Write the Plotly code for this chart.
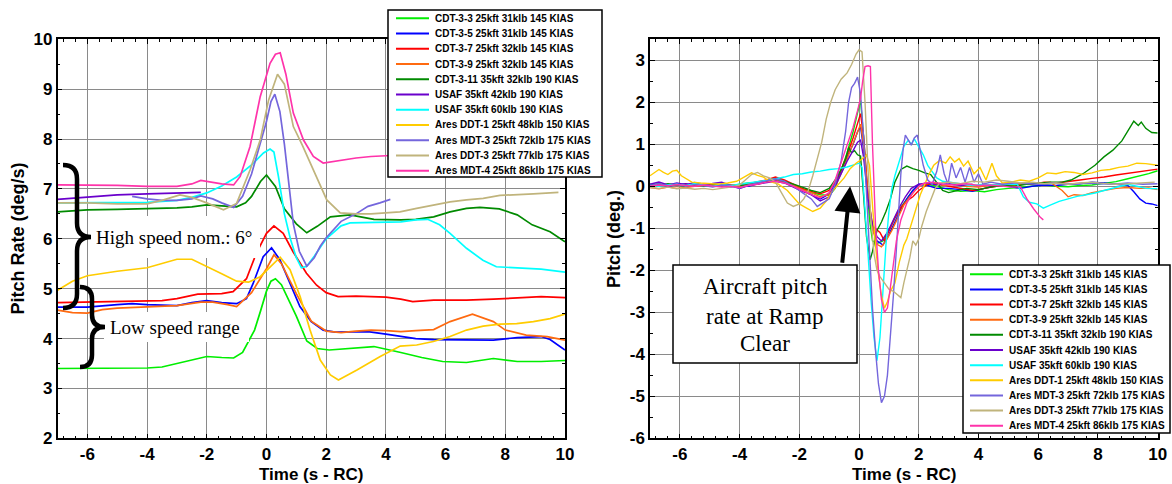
import plotly.graph_objects as go

W, H = 1172, 484

# ---------------- series names / colours ----------------
series_names = [
    "CDT-3-3 25kft 31klb 145 KIAS",
    "CDT-3-5 25kft 31klb 145 KIAS",
    "CDT-3-7 25kft 32klb 145 KIAS",
    "CDT-3-9 25kft 32klb 145 KIAS",
    "CDT-3-11 35kft 32klb 190 KIAS",
    "USAF 35kft 42klb 190 KIAS",
    "USAF 35kft 60klb 190 KIAS",
    "Ares DDT-1 25kft 48klb 150 KIAS",
    "Ares MDT-3 25kft 72klb 175 KIAS",
    "Ares DDT-3 25kft 77klb 175 KIAS",
    "Ares MDT-4 25kft 86klb 175 KIAS",
]
series_colors = ["#00ee00", "#0000ff", "#ff0000", "#ff6a10", "#008a00", "#6a00cc",
                 "#00ffff", "#ffcc00", "#7466dc", "#c0b47c", "#ff33aa"]

# ---------------- left chart: pitch rate (deg/s) ----------------
rate_cdt33_x = [-7, -6, -5, -4, -3.5, -3, -2.5, -2, -1.5, -1.1, -0.8, -0.6, -0.4, -0.2, 0, 0.15, 0.3, 0.5, 0.8, 1.0, 1.35, 1.7, 2.1, 2.6, 3.0, 3.6, 4.5, 5.2, 5.9, 6.7, 7.6, 8.4, 9.2, 10]
rate_cdt33_y = [3.40, 3.40, 3.41, 3.41, 3.43, 3.50, 3.58, 3.64, 3.62, 3.61, 3.72, 3.93, 4.17, 4.55, 4.95, 5.15, 5.20, 5.08, 4.70, 4.45, 3.95, 3.80, 3.77, 3.79, 3.82, 3.84, 3.72, 3.62, 3.54, 3.52, 3.60, 3.54, 3.54, 3.56]

rate_cdt35_x = [-7, -6, -5, -4.5, -4, -3, -2.5, -2, -1.5, -1, -0.67, -0.45, -0.11, 0.17, 0.45, 0.78, 1.12, 1.5, 1.9, 2.3, 3.0, 3.4, 4.0, 4.5, 5.0, 5.6, 6.7, 7.6, 8.4, 9.2, 9.5, 10]
rate_cdt35_y = [4.63, 4.63, 4.68, 4.70, 4.68, 4.66, 4.72, 4.76, 4.72, 4.70, 4.80, 5.10, 5.64, 5.82, 5.58, 5.10, 4.64, 4.34, 4.17, 4.13, 4.13, 4.14, 4.09, 4.04, 4.00, 3.98, 3.98, 3.97, 4.02, 4.04, 3.98, 3.77]

rate_cdt37_x = [-7, -6, -5, -4, -3.5, -3, -2.3, -1.5, -1.12, -0.67, -0.34, 0, 0.25, 0.56, 0.89, 1.34, 1.68, 2.0, 2.4, 3.0, 3.4, 4.0, 4.5, 4.9, 5.6, 6.7, 7.6, 8.4, 9.2, 10]
rate_cdt37_y = [4.72, 4.73, 4.73, 4.74, 4.76, 4.80, 4.89, 4.90, 4.94, 5.20, 5.71, 6.11, 6.26, 6.11, 5.74, 5.31, 5.07, 4.92, 4.84, 4.85, 4.84, 4.83, 4.79, 4.74, 4.77, 4.77, 4.79, 4.81, 4.84, 4.82]

rate_cdt39_x = [-7, -6.5, -6, -5.5, -5, -4, -3, -2.2, -1.8, -1.3, -1.0, -0.5, 0, 0.25, 0.5, 1.0, 1.5, 2.0, 2.5, 3.0, 3.5, 4.0, 4.5, 5.0, 5.6, 6.15, 6.7, 6.9, 7.6, 8.0, 8.7, 9.4, 10]
rate_cdt39_y = [4.57, 4.52, 4.51, 4.58, 4.61, 4.63, 4.66, 4.73, 4.73, 4.68, 4.64, 4.92, 5.40, 5.68, 5.50, 4.90, 4.35, 4.15, 4.12, 4.15, 4.17, 4.16, 4.14, 4.16, 4.18, 4.34, 4.44, 4.49, 4.34, 4.17, 4.07, 4.04, 3.97]

rate_cdt311_x = [-7, -6, -5, -4, -3, -2.5, -2, -1.5, -1, -0.7, -0.5, -0.2, 0, 0.3, 0.6, 1.0, 1.35, 1.7, 2.14, 2.8, 3.6, 4.5, 5.0, 5.6, 6.15, 6.7, 7.15, 7.8, 8.4, 8.9, 9.5, 10]
rate_cdt311_y = [6.54, 6.58, 6.59, 6.60, 6.62, 6.64, 6.68, 6.66, 6.64, 6.72, 6.85, 7.15, 7.28, 7.05, 6.60, 6.30, 6.12, 6.25, 6.44, 6.48, 6.39, 6.38, 6.39, 6.44, 6.54, 6.61, 6.63, 6.60, 6.48, 6.28, 6.14, 5.94]

rate_usaf42_x = [-7, -6, -5, -4, -3, -2.2]
rate_usaf42_y = [6.79, 6.84, 6.88, 6.90, 6.92, 6.93]

rate_usaf60_x = [-7, -6, -5, -4, -3, -2.5, -2, -1.5, -1, -0.5, -0.1, 0.12, 0.25, 0.4, 0.6, 0.8, 1.0, 1.17, 1.35, 1.6, 2.0, 2.5, 2.8, 3.5, 4.5, 5.0, 5.4, 5.8, 6.15, 6.7, 7.25, 7.7, 8.4, 9.2, 10]
rate_usaf60_y = [6.72, 6.72, 6.73, 6.73, 6.77, 6.83, 6.92, 7.06, 7.24, 7.48, 7.72, 7.80, 7.74, 7.25, 6.50, 6.00, 5.62, 5.42, 5.45, 5.65, 6.00, 6.26, 6.32, 6.33, 6.34, 6.38, 6.39, 6.28, 6.11, 5.81, 5.57, 5.44, 5.41, 5.39, 5.33]

rate_ddt1_x = [-7, -6.5, -6, -5, -4, -3.5, -3, -2.5, -2, -1.5, -1, -0.6, -0.21, 0.1, 0.3, 0.46, 0.79, 1.13, 1.46, 1.8, 2.14, 2.41, 3.03, 3.81, 4.48, 5.03, 5.59, 6.15, 6.7, 7.26, 7.82, 8.38, 8.94, 9.5, 10]
rate_ddt1_y = [4.97, 5.15, 5.26, 5.35, 5.42, 5.50, 5.59, 5.59, 5.45, 5.30, 5.15, 5.13, 5.24, 5.42, 5.55, 5.63, 5.38, 4.84, 4.17, 3.57, 3.27, 3.17, 3.37, 3.64, 3.85, 3.87, 3.94, 4.04, 4.17, 4.25, 4.29, 4.30, 4.34, 4.40, 4.49]

rate_mdt3_x = [-4.5, -4, -3.5, -3, -2.5, -2.2, -1.8, -1.5, -1.1, -0.8, -0.5, -0.2, 0, 0.15, 0.28, 0.45, 0.6, 0.75, 0.9, 1.1, 1.35, 1.6, 1.8, 2.0, 2.5, 3.0, 3.4, 3.8, 4.15]
rate_mdt3_y = [6.85, 6.80, 6.77, 6.77, 6.80, 6.86, 6.80, 6.72, 6.63, 6.85, 7.30, 7.90, 8.35, 8.75, 8.90, 8.55, 7.90, 7.10, 6.30, 5.75, 5.45, 5.62, 5.85, 6.02, 6.35, 6.50, 6.65, 6.72, 6.79]

rate_ddt3_x = [-7, -6, -5, -4, -3.5, -2.9, -2.5, -2, -1.44, -1.0, -0.55, -0.21, 0.07, 0.37, 0.6, 0.9, 1.2, 1.46, 2.02, 2.47, 3.0, 3.5, 4.0, 4.47, 5.03, 5.59, 6.15, 6.7, 7.26, 7.82, 8.38, 8.94, 9.78]
rate_ddt3_y = [6.72, 6.72, 6.70, 6.70, 6.77, 6.88, 6.83, 6.72, 6.58, 6.71, 7.38, 7.98, 8.78, 9.30, 9.10, 8.25, 7.88, 7.52, 6.78, 6.52, 6.50, 6.50, 6.52, 6.54, 6.61, 6.68, 6.74, 6.78, 6.81, 6.87, 6.88, 6.90, 6.93]

rate_mdt4_x = [-7, -6, -5, -4, -3, -2.5, -2.2, -1.5, -1.1, -0.88, -0.55, -0.21, 0.12, 0.3, 0.46, 0.65, 0.9, 1.24, 1.57, 1.9, 2.5, 3.0, 3.5, 4.04, 4.5]
rate_mdt4_y = [7.08, 7.08, 7.07, 7.05, 7.05, 7.10, 7.17, 7.10, 7.08, 7.25, 7.85, 8.85, 9.52, 9.70, 9.73, 9.30, 8.52, 7.98, 7.65, 7.52, 7.58, 7.62, 7.65, 7.66, 7.68]

# ---------------- right chart: pitch (deg) as (time, value) pairs ----------------
pitch_cdt33 = [(-7,0.03),(-6.7,0.06),(-6.4,0.02),(-6.1,0.05),(-5.8,0.01),(-5.5,0.05),(-5.2,0.02),(-4.9,0.06),(-4.6,0.03),(-4.3,0.01),(-4.0,0.05),(-3.7,0.08),(-3.4,0.05),(-3.1,0.12),(-2.8,0.18),(-2.5,0.12),(-2.2,0.02),(-1.9,-0.06),(-1.6,-0.15),(-1.3,-0.2),(-1.0,-0.22),(-0.8,-0.05),(-0.6,0.35),(-0.4,0.8),(-0.2,1.3),(-0.05,1.75),(0.05,2.05),(0.15,1.2),(0.25,0.1),(0.35,-0.8),(0.45,-1.3),(0.6,-1.36),(0.8,-1.3),(1.0,-1.05),(1.2,-0.75),(1.4,-0.5),(1.6,-0.3),(1.8,-0.1),(2.0,0.03),(2.3,0.05),(2.6,0.0),(3.0,-0.08),(3.4,-0.12),(3.8,-0.1),(4.2,-0.13),(4.6,-0.08),(5.0,-0.05),(5.4,-0.02),(5.8,0.0),(6.2,0.03),(6.6,0.0),(7.0,-0.01),(7.4,0.02),(7.8,0.03),(8.2,0.07),(8.6,0.11),(9.0,0.18),(9.4,0.24),(9.7,0.3),(10,0.37)]
pitch_cdt35 = [(-7,0.02),(-6.7,0.05),(-6.4,0.0),(-6.1,0.04),(-5.8,0.06),(-5.5,0.02),(-5.2,0.05),(-4.9,0.01),(-4.6,0.04),(-4.3,-0.02),(-4.0,0.03),(-3.7,0.0),(-3.4,0.06),(-3.1,0.1),(-2.8,0.15),(-2.5,0.1),(-2.2,0.0),(-1.9,-0.1),(-1.6,-0.2),(-1.3,-0.3),(-1.0,-0.18),(-0.8,0.05),(-0.6,0.35),(-0.4,0.7),(-0.2,1.0),(-0.05,1.3),(0.05,1.42),(0.15,0.9),(0.3,-0.3),(0.45,-1.0),(0.6,-1.3),(0.8,-1.4),(1.0,-1.15),(1.2,-0.85),(1.4,-0.55),(1.6,-0.3),(1.8,-0.1),(2.0,0.05),(2.3,0.02),(2.6,-0.05),(3.0,-0.05),(3.4,-0.08),(3.8,-0.12),(4.2,-0.05),(4.6,0.02),(5.0,0.0),(5.4,-0.05),(5.8,0.0),(6.2,0.03),(6.6,0.02),(7.0,0.05),(7.4,0.06),(7.8,0.1),(8.2,0.08),(8.6,0.05),(9.0,0.02),(9.2,-0.13),(9.4,-0.3),(9.6,-0.4),(9.8,-0.42),(10,-0.46)]
pitch_cdt37 = [(-7,0.03),(-6.7,0.0),(-6.4,0.04),(-6.1,0.02),(-5.8,0.05),(-5.5,0.0),(-5.2,0.03),(-4.9,0.05),(-4.6,0.01),(-4.3,0.04),(-4.0,0.02),(-3.7,0.06),(-3.4,0.1),(-3.1,0.15),(-2.8,0.22),(-2.5,0.15),(-2.2,0.05),(-1.9,-0.05),(-1.6,-0.12),(-1.3,-0.18),(-1.0,-0.1),(-0.8,0.1),(-0.6,0.4),(-0.4,0.75),(-0.2,1.15),(-0.05,1.5),(0.05,1.73),(0.15,1.2),(0.3,-0.2),(0.45,-0.95),(0.6,-1.05),(0.7,-1.1),(0.85,-1.3),(1.0,-1.05),(1.2,-0.75),(1.4,-0.5),(1.6,-0.35),(1.8,-0.25),(2.0,-0.1),(2.3,0.05),(2.6,0.08),(3.0,0.0),(3.4,-0.05),(3.8,-0.1),(4.2,-0.05),(4.6,0.0),(5.0,0.03),(5.4,0.05),(5.8,0.05),(6.2,0.1),(6.6,0.08),(7.0,0.11),(7.4,0.15),(7.8,0.19),(8.2,0.22),(8.6,0.27),(9.0,0.31),(9.4,0.34),(9.7,0.37),(10,0.41)]
pitch_cdt39 = [(-7,-0.03),(-6.7,-0.06),(-6.4,-0.02),(-6.1,-0.05),(-5.8,-0.03),(-5.5,0.0),(-5.2,0.03),(-4.9,0.0),(-4.6,0.02),(-4.3,0.04),(-4.0,0.0),(-3.7,0.05),(-3.4,0.08),(-3.1,0.12),(-2.8,0.16),(-2.5,0.1),(-2.2,0.02),(-1.9,-0.08),(-1.6,-0.15),(-1.3,-0.25),(-1.0,-0.2),(-0.8,0.0),(-0.6,0.3),(-0.4,0.65),(-0.2,1.0),(-0.05,1.3),(0.05,1.48),(0.15,1.0),(0.3,-0.2),(0.45,-1.0),(0.6,-1.38),(0.75,-1.44),(0.9,-1.3),(1.1,-1.05),(1.3,-0.75),(1.5,-0.45),(1.7,-0.25),(1.9,-0.08),(2.1,0.05),(2.4,0.08),(2.8,0.02),(3.2,0.05),(3.6,0.0),(4.0,-0.02),(4.4,0.03),(4.8,0.05),(5.2,0.02),(5.6,0.06),(6.0,0.08),(6.4,0.1),(6.8,-0.1),(7.0,-0.25),(7.2,-0.2),(7.5,-0.22),(7.8,-0.15),(8.2,-0.1),(8.6,-0.05),(9.0,-0.03),(9.4,-0.05),(9.7,-0.04),(10,-0.08)]
pitch_cdt311 = [(-7,0.05),(-6.7,0.02),(-6.4,0.06),(-6.1,0.03),(-5.8,0.0),(-5.5,0.04),(-5.2,0.01),(-4.9,0.03),(-4.6,0.05),(-4.3,0.0),(-4.0,0.02),(-3.7,0.04),(-3.4,0.08),(-3.1,0.12),(-2.8,0.18),(-2.5,0.12),(-2.2,0.05),(-1.9,-0.02),(-1.6,-0.1),(-1.3,-0.15),(-1.0,-0.05),(-0.8,0.15),(-0.6,0.4),(-0.45,0.65),(-0.35,0.92),(-0.25,0.8),(-0.15,0.85),(-0.05,0.75),(0.05,0.72),(0.15,-0.2),(0.25,-1.2),(0.37,-1.75),(0.45,-1.55),(0.6,-1.05),(0.75,-0.85),(0.9,-0.6),(1.05,-0.3),(1.2,0.1),(1.4,0.4),(1.6,0.48),(1.8,0.42),(2.0,0.38),(2.2,0.32),(2.4,0.28),(2.6,0.1),(2.8,-0.1),(3.0,-0.15),(3.3,-0.1),(3.6,-0.05),(4.0,-0.08),(4.4,-0.02),(4.8,0.02),(5.2,0.0),(5.6,0.05),(6.0,0.08),(6.4,0.1),(6.8,0.1),(7.1,0.15),(7.5,0.3),(7.9,0.5),(8.2,0.7),(8.5,0.86),(8.8,1.08),(9.0,1.3),(9.2,1.55),(9.35,1.45),(9.45,1.53),(9.6,1.38),(9.8,1.28),(10,1.27)]
pitch_usaf42 = [(-7,0.05),(-6.7,0.1),(-6.4,0.03),(-6.1,0.08),(-5.8,0.04),(-5.5,0.09),(-5.2,0.02),(-4.9,0.07),(-4.6,0.1),(-4.3,0.03),(-4.0,-0.05),(-3.7,0.02),(-3.4,0.05),(-3.1,0.08),(-2.8,0.12),(-2.5,0.08),(-2.2,-0.02),(-1.9,-0.12),(-1.6,-0.2),(-1.3,-0.35),(-1.0,-0.25),(-0.8,0.0),(-0.6,0.3),(-0.4,0.6),(-0.2,0.85),(-0.05,1.05),(0.05,1.1),(0.15,0.7),(0.3,-0.3),(0.45,-0.9),(0.6,-1.2),(0.75,-1.3),(0.95,-1.1),(1.15,-0.8),(1.35,-0.5),(1.55,-0.25),(1.75,-0.05),(2.0,0.05),(2.3,0.08),(2.6,0.03),(3.0,0.06),(3.4,0.02),(3.8,0.05)]
pitch_usaf60 = [(-7,0.02),(-6.7,0.0),(-6.4,0.03),(-6.1,0.05),(-5.8,0.02),(-5.5,0.06),(-5.2,0.03),(-4.9,0.0),(-4.6,0.04),(-4.3,0.02),(-4.0,0.05),(-3.7,0.08),(-3.4,0.1),(-3.1,0.14),(-2.8,0.18),(-2.5,0.22),(-2.2,0.28),(-1.9,0.3),(-1.6,0.34),(-1.3,0.36),(-1.0,0.4),(-0.7,0.42),(-0.4,0.46),(-0.2,0.5),(0.0,0.55),(0.1,0.45),(0.2,-0.5),(0.3,-1.6),(0.4,-2.7),(0.5,-3.6),(0.6,-4.15),(0.7,-3.6),(0.8,-2.5),(0.9,-1.4),(1.0,-0.6),(1.1,-0.05),(1.2,0.25),(1.35,0.6),(1.5,0.95),(1.65,1.1),(1.75,1.0),(1.85,1.13),(2.0,0.95),(2.15,0.75),(2.3,0.5),(2.45,0.35),(2.6,0.2),(2.8,0.12),(3.0,0.1),(3.4,0.05),(3.8,0.02),(4.2,0.05),(4.6,0.03),(5.0,0.05),(5.3,0.05),(5.5,-0.25),(5.7,-0.38),(5.95,-0.42),(6.17,-0.52),(6.4,-0.45),(6.7,-0.36),(7.0,-0.3),(7.3,-0.24),(7.6,-0.2),(7.9,-0.16),(8.2,-0.1),(8.5,-0.05),(8.8,0.0),(9.0,0.05),(9.3,0.0),(9.6,-0.05),(10,-0.06)]
pitch_ddt1 = [(-7,0.25),(-6.85,0.32),(-6.7,0.4),(-6.55,0.33),(-6.4,0.28),(-6.25,0.36),(-6.1,0.38),(-5.95,0.25),(-5.8,0.18),(-5.6,0.1),(-5.3,0.08),(-5.0,0.06),(-4.7,0.05),(-4.4,0.08),(-4.1,0.12),(-3.85,0.22),(-3.6,0.32),(-3.4,0.26),(-3.2,0.22),(-3.0,0.12),(-2.7,0.05),(-2.4,-0.1),(-2.2,-0.25),(-2.0,-0.42),(-1.8,-0.5),(-1.55,-0.6),(-1.3,-0.52),(-1.1,-0.35),(-0.9,-0.12),(-0.7,0.05),(-0.5,0.2),(-0.3,0.42),(-0.1,0.55),(0.1,0.65),(0.25,0.75),(0.35,0.5),(0.45,-0.5),(0.55,-1.4),(0.65,-2.1),(0.75,-2.6),(0.85,-2.9),(0.95,-2.75),(1.05,-2.5),(1.2,-2.3),(1.35,-1.8),(1.5,-1.4),(1.6,-1.25),(1.75,-0.9),(1.9,-0.5),(2.05,-0.2),(2.2,0.05),(2.35,0.3),(2.5,0.5),(2.7,0.62),(2.9,0.55),(3.05,0.7),(3.2,0.58),(3.35,0.66),(3.5,0.48),(3.65,0.6),(3.85,0.3),(4.05,0.45),(4.25,0.15),(4.45,0.55),(4.6,0.25),(4.8,0.08),(5.1,0.1),(5.4,0.15),(5.7,0.12),(6.0,0.2),(6.3,0.32),(6.6,0.3),(6.9,0.35),(7.2,0.33),(7.5,0.28),(7.8,0.32),(8.1,0.38),(8.4,0.4),(8.7,0.45),(9.0,0.48),(9.3,0.55),(9.6,0.54),(10,0.5)]
pitch_mdt3 = [(-7,0.02),(-6.7,0.06),(-6.4,0.01),(-6.1,0.05),(-5.8,0.0),(-5.5,0.04),(-5.2,0.02),(-4.9,-0.02),(-4.6,0.03),(-4.3,0.0),(-4.0,-0.04),(-3.7,0.03),(-3.4,0.08),(-3.1,0.14),(-2.8,0.18),(-2.5,0.12),(-2.2,0.0),(-1.9,-0.15),(-1.6,-0.3),(-1.4,-0.48),(-1.2,-0.4),(-1.0,-0.3),(-0.8,0.05),(-0.6,0.6),(-0.45,1.3),(-0.35,2.0),(-0.25,2.35),(-0.15,2.45),(-0.05,2.6),(0.05,2.2),(0.15,1.2),(0.25,-0.2),(0.35,-1.6),(0.45,-2.9),(0.55,-3.9),(0.65,-4.7),(0.75,-5.15),(0.85,-5.0),(0.95,-4.5),(1.05,-3.6),(1.15,-2.6),(1.25,-1.5),(1.32,-0.6),(1.4,0.3),(1.48,0.9),(1.55,1.22),(1.65,1.1),(1.75,0.98),(1.85,1.15),(1.95,1.22),(2.05,0.85),(2.15,0.5),(2.3,0.15),(2.45,0.05),(2.6,0.35),(2.72,0.75),(2.85,0.3),(2.98,0.05),(3.1,0.55),(3.25,0.2),(3.4,0.45),(3.55,0.1),(3.7,0.45),(3.85,0.1),(4.0,0.3),(4.15,0.05),(4.4,0.1),(4.8,0.05),(5.2,0.08),(5.6,0.06),(6.0,0.05),(6.5,0.08),(7.0,0.05),(7.5,0.08),(8.0,0.06),(8.5,0.05),(9.0,0.08),(9.5,0.05),(10,0.06)]
pitch_ddt3 = [(-7,-0.03),(-6.7,-0.05),(-6.4,-0.02),(-6.1,-0.06),(-5.8,-0.04),(-5.5,-0.07),(-5.2,-0.05),(-4.9,-0.08),(-4.6,-0.05),(-4.3,-0.02),(-4.0,0.03),(-3.8,0.15),(-3.6,0.28),(-3.4,0.33),(-3.2,0.25),(-3.0,0.2),(-2.8,0.1),(-2.6,-0.15),(-2.4,-0.4),(-2.2,-0.48),(-2.0,-0.42),(-1.85,-0.3),(-1.7,-0.1),(-1.55,0.25),(-1.4,0.65),(-1.25,1.05),(-1.1,1.6),(-0.95,2.0),(-0.8,2.3),(-0.6,2.55),(-0.4,2.7),(-0.25,2.9),(-0.1,3.15),(0.0,3.25),(0.1,3.2),(0.2,2.0),(0.3,0.4),(0.4,-0.8),(0.5,-1.6),(0.6,-2.0),(0.7,-2.15),(0.85,-2.3),(1.0,-2.45),(1.15,-2.5),(1.3,-2.6),(1.4,-2.65),(1.5,-2.3),(1.6,-2.0),(1.7,-1.7),(1.8,-1.3),(1.9,-1.4),(2.0,-1.25),(2.1,-0.95),(2.25,-0.6),(2.4,-0.3),(2.55,-0.05),(2.7,0.08),(3.0,0.1),(3.4,0.06),(3.8,0.12),(4.2,0.1),(4.6,0.15),(5.0,0.12),(5.4,0.08),(5.8,0.1),(6.2,0.06),(6.6,0.08),(7.0,0.05),(7.4,0.08),(7.8,0.1),(8.2,0.07),(8.6,0.05),(9.0,0.06),(9.4,0.08),(9.7,0.1),(9.9,0.1)]
pitch_mdt4 = [(-7,0.0),(-6.7,0.03),(-6.4,0.01),(-6.1,0.04),(-5.8,0.02),(-5.5,0.0),(-5.2,0.03),(-4.9,0.01),(-4.6,-0.02),(-4.3,0.0),(-4.0,-0.03),(-3.7,0.02),(-3.4,0.05),(-3.1,0.1),(-2.8,0.12),(-2.5,0.08),(-2.2,0.0),(-1.9,-0.1),(-1.6,-0.2),(-1.3,-0.28),(-1.0,-0.15),(-0.8,0.15),(-0.6,0.55),(-0.4,0.95),(-0.2,1.4),(-0.05,1.8),(0.05,2.1),(0.12,2.5),(0.2,2.85),(0.3,2.87),(0.38,2.85),(0.45,1.0),(0.55,-0.9),(0.65,-2.0),(0.75,-2.7),(0.85,-3.0),(0.95,-2.9),(1.05,-2.4),(1.15,-1.8),(1.25,-1.3),(1.4,-0.8),(1.6,-0.4),(1.8,-0.15),(2.0,0.0),(2.2,0.08),(2.5,0.1),(2.8,0.05),(3.2,0.03),(3.6,0.06),(4.0,0.02),(4.4,0.03),(4.8,0.0),(5.1,-0.02),(5.4,-0.01),(5.62,-0.3),(5.85,-0.54),(6.07,-0.74),(6.17,-0.8)]

x_ticks = [-6, -4, -2, 0, 2, 4, 6, 8, 10]
x_tick_labels = ["-6", "-4", "-2", "0", "2", "4", "6", "8", "10"]
rate_ticks = [2, 3, 4, 5, 6, 7, 8, 9, 10]
rate_tick_labels = ["2", "3", "4", "5", "6", "7", "8", "9", "10"]
pitch_ticks = [-6, -5, -4, -3, -2, -1, 0, 1, 2, 3]
pitch_tick_labels = ["-6", "-5", "-4", "-3", "-2", "-1", "0", "1", "2", "3"]

rate_series = [
    (rate_cdt33_x, rate_cdt33_y), (rate_cdt35_x, rate_cdt35_y), (rate_cdt37_x, rate_cdt37_y),
    (rate_cdt39_x, rate_cdt39_y), (rate_cdt311_x, rate_cdt311_y), (rate_usaf42_x, rate_usaf42_y),
    (rate_usaf60_x, rate_usaf60_y), (rate_ddt1_x, rate_ddt1_y), (rate_mdt3_x, rate_mdt3_y),
    (rate_ddt3_x, rate_ddt3_y), (rate_mdt4_x, rate_mdt4_y),
]
pitch_series = [pitch_cdt33, pitch_cdt35, pitch_cdt37, pitch_cdt39, pitch_cdt311, pitch_usaf42,
                pitch_usaf60, pitch_ddt1, pitch_mdt3, pitch_ddt3, pitch_mdt4]

# ---------------- layout helpers (pixel -> paper) ----------------
def PX(x):
    return x / W

def PY(y):
    return 1 - y / H

fig = go.Figure()
for (xs, ys), name, col in zip(rate_series, series_names, series_colors):
    fig.add_trace(go.Scatter(x=xs, y=ys, mode="lines", name=name, showlegend=False,
                             line=dict(color=col, width=1.7), xaxis="x", yaxis="y"))
for pairs, name, col in zip(pitch_series, series_names, series_colors):
    fig.add_trace(go.Scatter(x=[p[0] for p in pairs], y=[p[1] for p in pairs], mode="lines",
                             name=name, showlegend=False,
                             line=dict(color=col, width=1.4), xaxis="x2", yaxis="y2"))

TICKFONT = dict(family="Liberation Sans, Arial", size=17, color="black", weight="bold")
GRID = "#8a8a8a"

def xaxis_cfg(domain, anchor):
    return dict(domain=domain, anchor=anchor, range=[-7, 10], tickmode="array",
                tickvals=x_ticks, ticktext=x_tick_labels, automargin=False,
                showgrid=True, gridcolor=GRID, gridwidth=1, zeroline=False,
                showline=True, linecolor="black", linewidth=1.5, mirror="allticks",
                ticks="inside", ticklen=5, tickcolor="black", tickfont=TICKFONT,
                ticklabelstandoff=0,
                minor=dict(dtick=0.4, tick0=0, ticks="inside", ticklen=3, tickcolor="black", showgrid=False))

def yaxis_cfg(domain, anchor, rng, vals, labels):
    return dict(domain=domain, anchor=anchor, range=rng, tickmode="array",
                tickvals=vals, ticktext=labels, automargin=False,
                showgrid=True, gridcolor=GRID, gridwidth=1, zeroline=False,
                showline=True, linecolor="black", linewidth=1.5, mirror="allticks",
                ticks="inside", ticklen=5, tickcolor="black", tickfont=TICKFONT,
                minor=dict(dtick=0.5, tick0=0, ticks="inside", ticklen=3, tickcolor="black", showgrid=False))

ydom = [PY(438.3), PY(39.3)]
fig.update_layout(
    width=W, height=H, autosize=False, margin=dict(l=0, r=0, t=0, b=0, autoexpand=False),
    paper_bgcolor="white", plot_bgcolor="white", showlegend=False,
    xaxis=xaxis_cfg([PX(57.5), PX(565.0)], "y"),
    yaxis=yaxis_cfg(ydom, "x", [2, 10], rate_ticks, rate_tick_labels),
    xaxis2=xaxis_cfg([PX(650.0), PX(1157.7)], "y2"),
    yaxis2=yaxis_cfg(ydom, "x2", [-6, 3.5], pitch_ticks, pitch_tick_labels),
)

shapes = []
annotations = []

def rect(x0, y0, x1, y1, fill="white", lc="black", lw=1.5):
    shapes.append(dict(type="rect", xref="paper", yref="paper", x0=PX(x0), x1=PX(x1),
                       y0=PY(y1), y1=PY(y0), fillcolor=fill,
                       line=dict(color=lc, width=lw), layer="above"))

def brace(xe, xs, xt, yt, ym, yb, r, lw=4.5):
    pts = lambda x, y: f"{PX(x):.5f},{PY(y):.5f}"
    path = (f"M{pts(xe, yt)} Q{pts(xs, yt)} {pts(xs, yt + r)} L{pts(xs, ym - r)} "
            f"Q{pts(xs, ym)} {pts(xt, ym)} Q{pts(xs, ym)} {pts(xs, ym + r)} "
            f"L{pts(xs, yb - r)} Q{pts(xs, yb)} {pts(xe, yb)}")
    shapes.append(dict(type="path", xref="paper", yref="paper", path=path,
                       line=dict(color="black", width=lw), layer="above"))

def text(x, y, s, size, family, xanchor="center", bold=False, angle=0):
    annotations.append(dict(x=PX(x), y=PY(y), xref="paper", yref="paper", text=s, showarrow=False,
                            xanchor=xanchor, yanchor="middle", textangle=angle,
                            font=dict(family=family, size=size, color="black",
                                      weight="bold" if bold else "normal")))

SANS = "Liberation Sans, Arial"
SERIF = "Liberation Serif, Times New Roman"

# white label backgrounds + braces on left chart
rect(88, 216, 260, 258, fill="white", lc="rgba(0,0,0,0)", lw=0)
rect(104, 312, 249, 342, fill="white", lc="rgba(0,0,0,0)", lw=0)
brace(63, 77, 91, 165, 237, 308, 14)
brace(80, 92, 105, 287, 327, 367, 12)
text(94, 237, "High speed nom.: 6°", 19, SERIF, xanchor="left")
text(108, 327, "Low speed range", 19, SERIF, xanchor="left")

# right chart text box
rect(673, 265, 857, 363, fill="white", lc="black", lw=1.5)
text(765, 286, "Aircraft pitch", 23, SERIF)
text(765, 316, "rate at Ramp", 23, SERIF)
text(765, 343, "Clear", 23, SERIF)
annotations.append(dict(x=-0.3, y=0.0, xref="x2", yref="y2", text="", showarrow=True,
                        ax=-8, ay=78, arrowhead=2, arrowsize=1.3, arrowwidth=4,
                        arrowcolor="black", standoff=0))

# legends (drawn by hand for compact row spacing)
def legend(x0, y0, x1, y1, lx0, lx1, tx, yc0, dy):
    rect(x0, y0, x1, y1, fill="white", lc="black", lw=1.5)
    for i, (name, col) in enumerate(zip(series_names, series_colors)):
        yc = yc0 + dy * i
        shapes.append(dict(type="line", xref="paper", yref="paper", x0=PX(lx0), x1=PX(lx1),
                           y0=PY(yc), y1=PY(yc), line=dict(color=col, width=2), layer="above"))
        text(tx, yc, name, 10, SANS, xanchor="left", bold=True)

legend(388, 10, 602, 177, 396, 429, 433, 18.3, 15.24)
legend(963, 265, 1170, 433, 970, 1003, 1007, 274.3, 15.14)

# axis titles
text(311, 474.5, "Time (s - RC)", 17, SANS, bold=True)
text(904, 474.5, "Time (s - RC)", 17, SANS, bold=True)
text(17.5, 239, "Pitch Rate (deg/s)", 18, SANS, bold=True, angle=-90)
text(614, 239, "Pitch (deg.)", 18, SANS, bold=True, angle=-90)

fig.update_layout(shapes=shapes, annotations=annotations)
fig.write_html("out.html")
